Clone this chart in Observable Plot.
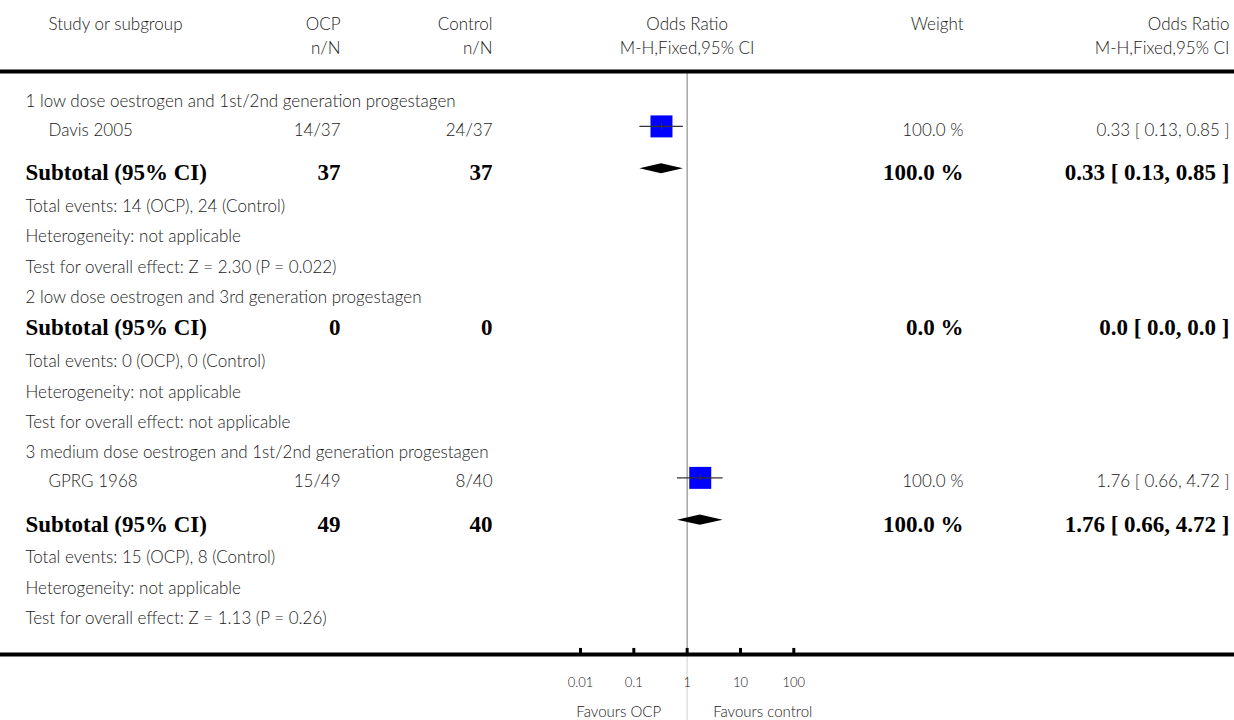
<!DOCTYPE html>
<html>
<head>
<meta charset="utf-8">
<script src="https://cdn.jsdelivr.net/npm/d3@7"></script>
<script src="https://cdn.jsdelivr.net/npm/@observablehq/plot@0.6"></script>
<style>
  body { margin: 0; background: #fff; }
  #chart svg { display: block; }
</style>
</head>
<body>
<div id="chart"></div>
<script>
// ---- Subgroups ----
const subgroupTitles = [
  "1 low dose oestrogen and 1st/2nd generation progestagen",
  "2 low dose oestrogen and 3rd generation progestagen",
  "3 medium dose oestrogen and 1st/2nd generation progestagen"
];

// ---- Individual studies ----
const studyNames = ["Davis 2005", "GPRG 1968"];
const studySubgroup = [0, 2];
const studyOcp = ["14/37", "15/49"];
const studyControl = ["24/37", "8/40"];
const studyOR = [0.33, 1.76];
const studyLo = [0.13, 0.66];
const studyHi = [0.85, 4.72];
const studyWeight = [100.0, 100.0];

// ---- Subtotals per subgroup ----
const subtotalOcpN = [37, 0, 49];
const subtotalControlN = [37, 0, 40];
const subtotalWeight = [100.0, 0.0, 100.0];
const subtotalOR = [0.33, 0.0, 1.76];
const subtotalLo = [0.13, 0.0, 0.66];
const subtotalHi = [0.85, 0.0, 4.72];
const totalEvents = ["14 (OCP), 24 (Control)", "0 (OCP), 0 (Control)", "15 (OCP), 8 (Control)"];
const heterogeneity = ["not applicable", "not applicable", "not applicable"];
const overallEffect = ["Z = 2.30 (P = 0.022)", "not applicable", "Z = 1.13 (P = 0.26)"];

// ---- Axis ----
const axisTicks = [0.01, 0.1, 1, 10, 100];
const axisTickLabels = ["0.01", "0.1", "1", "10", "100"];
const favoursLeft = "Favours OCP";
const favoursRight = "Favours control";

// ---- Layout, in text-line units (first subgroup heading at 0) ----
const Y_TOP = -3.191, Y_BOTTOM = 20.49;
const Y_HEAD1 = -2.533, Y_HEAD2 = -1.743, Y_TOPLINE = -0.855;
const Y_AXIS = 18.32, Y_TICKLABEL = 19.11, Y_FAVOURS = 20.10;
const TEXT_DY = 4; // text sits slightly below the marker centre line

const ciText = (or, lo, hi) => or === 0
  ? "0.0 [ 0.0, 0.0 ]"
  : `${or.toFixed(2)} [ ${lo.toFixed(2)}, ${hi.toFixed(2)} ]`;

// Build the table of rows with their vertical positions
const rows = [];
let y = 0, prev = null;
function push(kind, obj) {
  if (prev !== null) {
    let gap = 1;
    if (kind === "study") gap = 0.95;
    else if (kind === "subtotal") gap = prev === "study" ? 1.39 : 1.0;
    else if (prev === "subtotal") gap = 1.11;
    y += gap;
  }
  rows.push({kind, y, ...obj});
  prev = kind;
}
subgroupTitles.forEach((title, g) => {
  push("heading", {label: title});
  studyNames.forEach((name, i) => {
    if (studySubgroup[i] !== g) return;
    push("study", {
      label: name, ocp: studyOcp[i], ctrl: studyControl[i],
      or: studyOR[i], lo: studyLo[i], hi: studyHi[i], weight: studyWeight[i],
      weightText: studyWeight[i].toFixed(1) + " %",
      ciText: ciText(studyOR[i], studyLo[i], studyHi[i])
    });
  });
  push("subtotal", {
    label: "Subtotal (95% CI)", ocp: String(subtotalOcpN[g]), ctrl: String(subtotalControlN[g]),
    or: subtotalOR[g], lo: subtotalLo[g], hi: subtotalHi[g],
    weightText: subtotalWeight[g].toFixed(1) + " %",
    ciText: ciText(subtotalOR[g], subtotalLo[g], subtotalHi[g])
  });
  push("info", {label: "Total events: " + totalEvents[g]});
  push("info", {label: "Heterogeneity: " + heterogeneity[g]});
  push("info", {label: "Test for overall effect: " + overallEffect[g]});
});

const studies = rows.filter(d => d.kind === "study");
const subtotals = rows.filter(d => d.kind === "subtotal");
const infoRows = rows.filter(d => d.kind === "heading" || d.kind === "info");

// Diamond outline for each pooled estimate
const DH = 0.165;
const diamonds = subtotals.filter(d => d.or > 0).flatMap((d, i) => [
  {g: i, x: d.lo, y1: d.y, y2: d.y},
  {g: i, x: d.or, y1: d.y - DH, y2: d.y + DH},
  {g: i, x: d.hi, y1: d.y, y2: d.y}
]);

const SANS = "Lato, 'Open Sans', sans-serif";
const SERIF = "'Liberation Serif', 'Times New Roman', serif";
const ink = "#1a1a1a";
const FS = 17;

// Column positions (pixels from the left edge)
const COL_LEFT = 25, COL_INDENT = 48, COL_OCP = 340, COL_CTRL = 492, COL_WEIGHT = 963, COL_CI = 1229;

const col = (data, text, dx, anchor, extra = {}) => Plot.text(data, {
  y: "y", text, frameAnchor: "left", dx, dy: TEXT_DY, textAnchor: anchor,
  fill: ink, fontFamily: SANS, fontWeight: 300, fontSize: FS, ...extra
});
const bold = {fontFamily: SERIF, fontWeight: "bold", fontSize: 23, fill: "#000"};
const header = (label, yv, dx, anchor) => Plot.text([label], {
  y: () => yv, text: d => d, frameAnchor: "left", dx, dy: TEXT_DY, textAnchor: anchor,
  fill: ink, fontFamily: SANS, fontWeight: 300, fontSize: FS
});

const chart = Plot.plot({
  width: 1234,
  height: 720,
  margin: 0,
  x: {type: "log", domain: [0.01, 100], range: [580, 793.3], axis: null},
  y: {domain: [Y_TOP, Y_BOTTOM], range: [0, 720], axis: null},
  r: {type: "sqrt", domain: [0, 100], range: [0, 12.4]},
  marks: [
    // reference line at odds ratio 1
    Plot.ruleX([1], {y1: Y_TOPLINE, y2: Y_AXIS, stroke: "#999", strokeWidth: 1.3}),
    Plot.ruleX([1], {y1: Y_AXIS, y2: Y_BOTTOM, stroke: "#dcdcdc", strokeWidth: 1.3}),
    // horizontal rules
    Plot.ruleY([Y_TOPLINE, Y_AXIS], {stroke: "#000", strokeWidth: 4}),
    // axis ticks and labels
    Plot.ruleX(axisTicks, {y1: Y_AXIS - 0.2, y2: Y_AXIS, stroke: "#000", strokeWidth: 3}),
    Plot.text(axisTicks, {x: d => d, y: () => Y_TICKLABEL, dy: TEXT_DY, text: (d, i) => axisTickLabels[i],
      fill: ink, fontFamily: SANS, fontWeight: 300, fontSize: 13}),
    Plot.text([favoursLeft], {x: () => 1, y: () => Y_FAVOURS, dy: TEXT_DY, text: d => d, dx: -26,
      textAnchor: "end", fill: ink, fontFamily: SANS, fontWeight: 300, fontSize: 15}),
    Plot.text([favoursRight], {x: () => 1, y: () => Y_FAVOURS, dy: TEXT_DY, text: d => d, dx: 26,
      textAnchor: "start", fill: ink, fontFamily: SANS, fontWeight: 300, fontSize: 15}),

    // column headers
    header("Study or subgroup", Y_HEAD1, COL_INDENT, "start"),
    header("OCP", Y_HEAD1, COL_OCP, "end"),
    header("Control", Y_HEAD1, COL_CTRL, "end"),
    header("Weight", Y_HEAD1, COL_WEIGHT, "end"),
    header("Odds Ratio", Y_HEAD1, COL_CI, "end"),
    header("n/N", Y_HEAD2, COL_OCP, "end"),
    header("n/N", Y_HEAD2, COL_CTRL, "end"),
    header("M-H,Fixed,95% CI", Y_HEAD2, COL_CI, "end"),
    Plot.text(["Odds Ratio", "M-H,Fixed,95% CI"], {x: () => 1, y: (d, i) => i ? Y_HEAD2 : Y_HEAD1,
      dy: TEXT_DY, text: d => d, fill: ink, fontFamily: SANS, fontWeight: 300, fontSize: FS}),

    // subgroup headings and summary lines
    col(infoRows, "label", COL_LEFT, "start"),

    // study rows
    col(studies, "label", COL_INDENT, "start"),
    col(studies, "ocp", COL_OCP, "end"),
    col(studies, "ctrl", COL_CTRL, "end"),
    col(studies, "weightText", COL_WEIGHT, "end"),
    col(studies, "ciText", COL_CI, "end"),

    // subtotal rows
    col(subtotals, "label", COL_LEFT, "start", bold),
    col(subtotals, "ocp", COL_OCP, "end", bold),
    col(subtotals, "ctrl", COL_CTRL, "end", bold),
    col(subtotals, "weightText", COL_WEIGHT, "end", bold),
    col(subtotals, "ciText", COL_CI, "end", bold),

    // study estimates: weighted squares with confidence intervals
    Plot.dot(studies, {x: "or", y: "y", r: "weight", symbol: "square", fill: "#0000ff", stroke: null}),
    Plot.ruleY(studies, {y: "y", x1: "lo", x2: "hi", stroke: "#333", strokeWidth: 1.4}),
    Plot.ruleX(studies, {x: "or", y1: d => d.y - 0.1, y2: d => d.y + 0.1, stroke: "#333", strokeWidth: 1}),

    // pooled estimates
    Plot.areaY(diamonds, {x: "x", y1: "y1", y2: "y2", z: "g", fill: "#000", curve: "linear"})
  ]
});

document.getElementById("chart").appendChild(chart);
</script>
</body>
</html>
